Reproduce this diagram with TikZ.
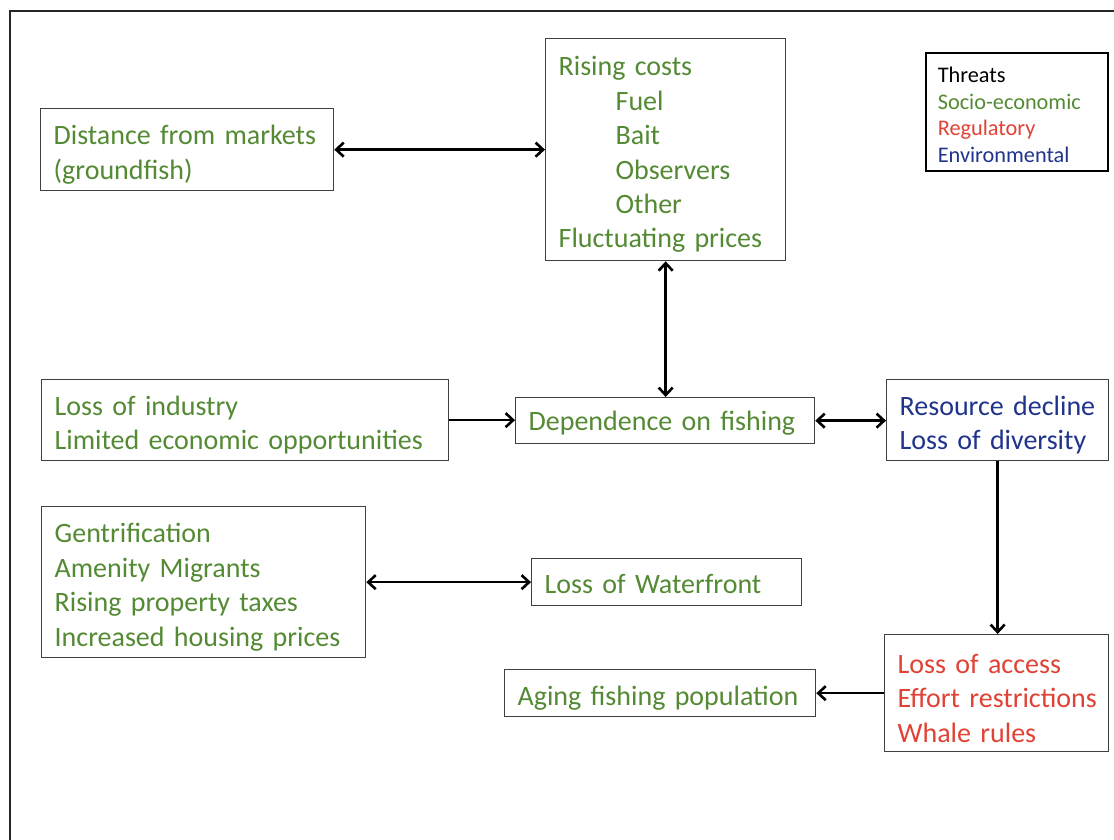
\documentclass[tikz,border=0pt]{standalone}
\usepackage{fontspec}
\setmainfont{Carlito}
\usetikzlibrary{arrows.meta}
\definecolor{tgreen}{RGB}{84,138,52}
\definecolor{tred}{RGB}{224,66,54}
\definecolor{tblue}{RGB}{32,52,140}
\begin{document}
\begin{tikzpicture}[x=1pt,y=-1pt,
  box/.style={draw=black!75, line width=1.3pt, inner sep=0pt, anchor=north west},
  txt/.style={inner sep=0pt, align=left, anchor=center, yshift=-5pt,
    font=\fontsize{28}{34.4}\selectfont,
    execute at begin node={\hyphenpenalty=10000\exhyphenpenalty=10000}},
  legendbox/.style={draw=black, line width=1.6pt, inner sep=0pt, anchor=north west},
  legtxt/.style={inner sep=0pt, align=left, anchor=center, yshift=-3pt,
    font=\fontsize{22.3}{26.7}\selectfont},
  tip/.tip={Straight Barb[length=7.5pt,width=14pt,line width=2.6pt]},
  con/.style={line width=2.6pt, -tip},
  bicon/.style={line width=2.6pt, tip-tip}]
\useasboundingbox (0,0) rectangle (1114,840);
\fill[white] (0,0) rectangle (1114,840);
% outer frame (cut by the page edge)
\draw[line width=2.5pt, black!85] (1130,11) -- (10,11) -- (10,850);

\node[box, minimum width=293pt, minimum height=82pt] (dist) at (40,108) {};
\node[txt, text=tgreen, text width=267pt] (dist-t) at (dist.center)
  {Distance from markets\\(groundfish)};

\node[box, minimum width=240pt, minimum height=222pt] (rise) at (545,38) {};
\node[txt, text=tgreen, text width=214pt] (rise-t) at (rise.center)
  {Rising costs\\\hspace*{57pt}Fuel\\\hspace*{57pt}Bait\\\hspace*{57pt}Observers\\\hspace*{57pt}Other\\Fluctuating prices};

\node[legendbox, minimum width=182pt, minimum height=118pt] (leg) at (925,52) {};
\node[legtxt, text width=158pt] (leg-t) at (leg.center)
  {Threats\\\textcolor{tgreen}{Socio-economic}\\\textcolor{tred}{Regulatory}\\\textcolor{tblue}{Environmental}};

\node[box, minimum width=407pt, minimum height=81pt] (ind) at (41,379) {};
\node[txt, text=tgreen, text width=381pt] (ind-t) at (ind.center)
  {Loss of industry\\Limited economic opportunities};

\node[box, minimum width=299pt, minimum height=46pt] (dep) at (515,397) {};
\node[txt, text=tgreen, text width=273pt, yshift=2pt] (dep-t) at (dep.center)
  {Dependence on fishing};

\node[box, minimum width=222pt, minimum height=81pt] (res) at (886,379) {};
\node[txt, text=tblue, text width=196pt] (res-t) at (res.center)
  {Resource decline\\Loss of diversity};

\node[box, minimum width=324pt, minimum height=151pt] (gent) at (41,506) {};
\node[txt, text=tgreen, text width=298pt] (gent-t) at (gent.center)
  {Gentrification\\Amenity Migrants\\Rising property taxes\\Increased housing prices};

\node[box, minimum width=270pt, minimum height=47pt] (water) at (531,558) {};
\node[txt, text=tgreen, text width=244pt, yshift=3pt] (water-t) at (water.center)
  {Loss of Waterfront};

\node[box, minimum width=311pt, minimum height=47pt] (aging) at (504,669) {};
\node[txt, text=tgreen, text width=285pt] (aging-t) at (aging.center)
  {Aging fishing population};

\node[box, minimum width=224pt, minimum height=117pt] (acc) at (884,634) {};
\node[txt, text=tred, text width=214pt, xshift=8pt] (acc-t) at (acc.center)
  {Loss of access\\Effort restrictions\\Whale rules};

\draw[bicon] (dist.east) -- (dist.east -| rise.west);
\draw[bicon] (rise.south) -- (rise.south |- dep.north);
\draw[con] (ind.east) -- (ind.east -| dep.west);
\draw[bicon] (dep.east) -- (dep.east -| res.west);
\draw[con] (res.south) -- (res.south |- acc.north);
\draw[bicon] (gent.east) -- (gent.east -| water.west);
\draw[con] (acc.west |- aging.east) -- (aging.east);
\end{tikzpicture}
\end{document}
